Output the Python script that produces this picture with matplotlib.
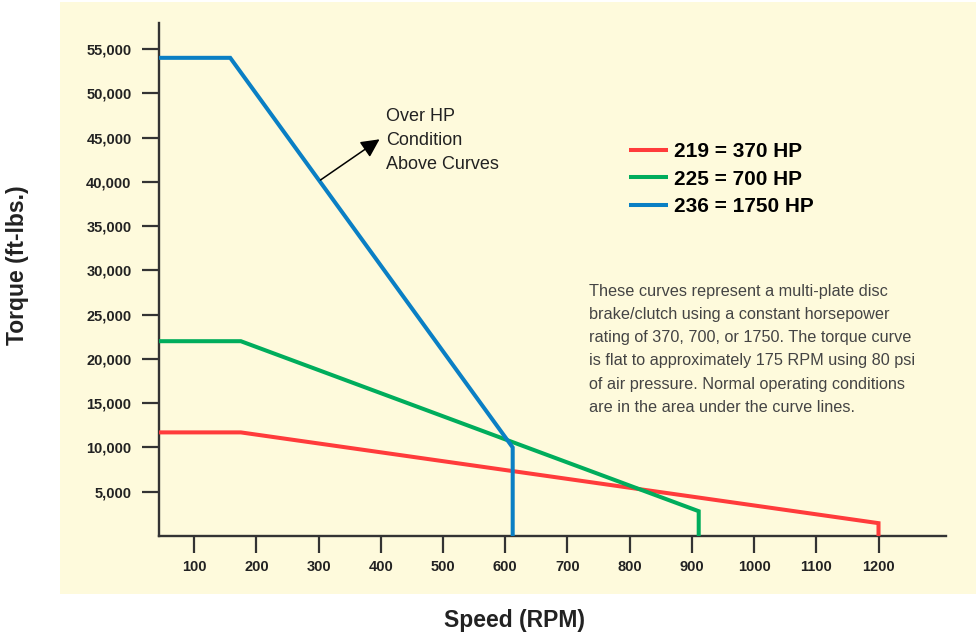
import matplotlib.pyplot as plt
from matplotlib.patches import Rectangle

# Data
rpm_219 = [43, 175, 1200, 1200]
torque_219 = [11700, 11700, 1450, 0]
rpm_225 = [43, 175, 911, 911]
torque_225 = [22000, 22000, 2800, 0]
rpm_236 = [43, 158, 612, 612]
torque_236 = [54000, 54000, 10000, 0]

labels = ['219 = 370 HP', '225 = 700 HP', '236 = 1750 HP']
colors = ['#ff3b3b', '#00ad5c', '#0a7fc4']

x_ticks = list(range(100, 1201, 100))
y_ticks = list(range(5000, 55001, 5000))

note = ('These curves represent a multi-plate disc\n'
        'brake/clutch using a constant horsepower\n'
        'rating of 370, 700, or 1750. The torque curve\n'
        'is flat to approximately 175 RPM using 80 psi\n'
        'of air pressure. Normal operating conditions\n'
        'are in the area under the curve lines.')

W, H = 976, 635
def fx(x):
    return x / W
def fy(y):
    return 1 - y / H

plt.rcParams['font.family'] = ['Liberation Sans', 'DejaVu Sans']

fig = plt.figure(figsize=(W / 100, H / 100), dpi=100)
fig.patches.append(Rectangle((fx(60), fy(594)), fx(976) - fx(60), fy(2) - fy(594),
                             transform=fig.transFigure, facecolor='#fefadc',
                             edgecolor='none', zorder=-5))

ax = fig.add_axes([fx(158.7), fy(536), fx(945.7) - fx(158.7), fy(23.3) - fy(536)])
ax.set_facecolor('none')
ax.set_zorder(2)

for xs, ys, c, lab in zip([rpm_219, rpm_225, rpm_236],
                          [torque_219, torque_225, torque_236], colors, labels):
    ax.plot(xs, ys, color=c, lw=2.9, label=lab, solid_joinstyle='miter',
            solid_capstyle='butt', zorder=3)

ax.set_xlim(43, 1308)
ax.set_ylim(0, 57900)
ax.set_xticks(x_ticks)
ax.set_yticks(y_ticks)
ax.set_yticklabels([f'{v:,}' for v in y_ticks])
ax.tick_params(axis='both', length=12.5, width=1.6, color='#333333',
               labelsize=10.5, labelcolor='#222222', direction='out')
ax.tick_params(axis='x', pad=5)
ax.tick_params(axis='y', pad=7)
for lab in ax.get_xticklabels() + ax.get_yticklabels():
    lab.set_fontweight('bold')

for s in ['top', 'right']:
    ax.spines[s].set_visible(False)
for s in ['left', 'bottom']:
    ax.spines[s].set_linewidth(1.7)
    ax.spines[s].set_color('#333333')

# Over HP annotation
ax.annotate('', xy=(398, 44800), xytext=(303, 40200),
            arrowprops=dict(arrowstyle='-|>', color='black', lw=1.1,
                            mutation_scale=28, shrinkA=0, shrinkB=0))
fig.text(fx(386), fy(108), 'Over HP\nCondition\nAbove Curves',
         family=['Liberation Sans Narrow', 'Liberation Sans', 'DejaVu Sans'],
         fontsize=13, color='#222222', va='top', ha='left', linespacing=1.55)

leg = ax.legend(loc='upper left', bbox_to_anchor=(fx(629), fy(142)),
                bbox_transform=fig.transFigure, frameon=False, borderpad=0,
                borderaxespad=0, handlelength=1.85, handletextpad=0.3,
                labelspacing=0.42, prop={'weight': 'bold', 'size': 15})

fig.text(fx(589), fy(284), note, fontsize=11.7, color='#444444',
         va='top', ha='left', linespacing=1.68)

fig.text(fx(514), fy(621), 'Speed (RPM)', fontsize=16.5, fontweight='bold',
         color='#222222', ha='center', va='center')
fig.text(fx(18), fy(265), 'Torque (ft-lbs.)', fontsize=16.5, fontweight='bold',
         color='#222222', ha='center', va='center', rotation=90)

fig.savefig('out.png', dpi=100)
